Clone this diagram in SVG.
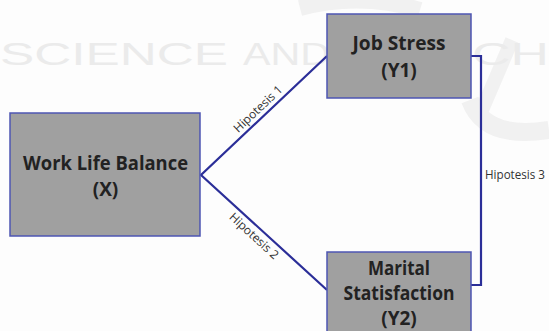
<svg xmlns="http://www.w3.org/2000/svg" width="549" height="331" viewBox="0 0 549 331">
  <style>
    .wm { font-family: "Liberation Sans", Arial, sans-serif; font-size: 32px; fill: #ebebeb; }
    .box { fill: #a0a0a0; stroke: #4d55b3; stroke-width: 1.5; }
    .lbl { font-family: "Open Sans", "Liberation Sans", sans-serif; font-weight: 700; font-size: 19px; fill: #222222; text-anchor: middle; }
    .conn { fill: none; stroke: #2b2e98; stroke-width: 2.2; }
    .hyp { font-family: "Open Sans", "Liberation Sans", sans-serif; font-size: 12px; fill: #333333; }
  </style>
  <rect x="0" y="0" width="549" height="331" fill="#fdfdfd"/>
  <g id="watermark">
    <path d="M 300 8 Q 360 -8 420 10" fill="none" stroke="#f1f1f1" stroke-width="16"/>
    <path d="M 470 100 Q 485 140 549 130" fill="none" stroke="#f1f1f1" stroke-width="18"/>
    <path d="M 512 40 L 482 110" fill="none" stroke="#f1f1f1" stroke-width="14"/>
    <text class="wm" x="0" y="65" textLength="228" lengthAdjust="spacingAndGlyphs">SCIENCE</text>
    <text class="wm" x="243" y="65" textLength="87" lengthAdjust="spacingAndGlyphs">AND</text>
    <text class="wm" x="404" y="65" textLength="145" lengthAdjust="spacingAndGlyphs">TECH</text>
  </g>
  <g id="connectors">
    <polyline class="conn" points="327,56 201,175 327,290"/>
    <polyline class="conn" points="471,56 481,56 481,285 471,285"/>
    <text class="hyp" text-anchor="middle" transform="translate(258,109) rotate(-43.4)" y="4" textLength="62" lengthAdjust="spacingAndGlyphs">Hipotesis 1</text>
    <text class="hyp" text-anchor="middle" transform="translate(254,236) rotate(42.4)" y="4" textLength="62" lengthAdjust="spacingAndGlyphs">Hipotesis 2</text>
    <text class="hyp" x="485" y="179" textLength="60" lengthAdjust="spacingAndGlyphs">Hipotesis 3</text>
  </g>
  <g id="node-x">
    <rect class="box" x="10" y="113" width="190" height="123"/>
    <text class="lbl" x="105.5" y="170" textLength="165" lengthAdjust="spacingAndGlyphs">Work Life Balance</text>
    <text class="lbl" x="105.5" y="196">(X)</text>
  </g>
  <g id="node-y1">
    <rect class="box" x="327" y="14" width="144" height="84"/>
    <text class="lbl" x="399" y="50" textLength="93" lengthAdjust="spacingAndGlyphs">Job Stress</text>
    <text class="lbl" x="399" y="77">(Y1)</text>
  </g>
  <g id="node-y2">
    <rect class="box" x="327" y="252" width="144" height="90"/>
    <text class="lbl" x="399" y="275" textLength="62" lengthAdjust="spacingAndGlyphs">Marital</text>
    <text class="lbl" x="399" y="300" textLength="111" lengthAdjust="spacingAndGlyphs">Statisfaction</text>
    <text class="lbl" x="399" y="325">(Y2)</text>
  </g>
</svg>
